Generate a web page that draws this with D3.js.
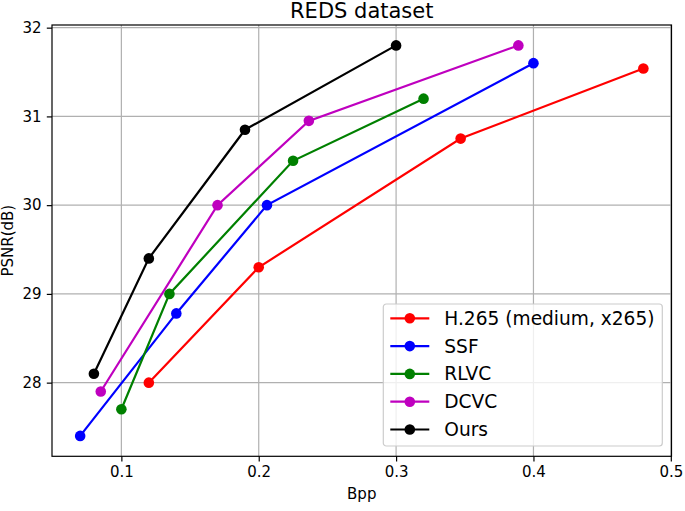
<!DOCTYPE html>
<html>
<head>
<meta charset="utf-8">
<script src="https://cdn.jsdelivr.net/npm/d3@7"></script>
<style>
  body { margin: 0; background: #fff; }
  text { font-family: "DejaVu Sans", sans-serif; fill: #000; }
</style>
</head>
<body>
<div id="graf"></div>
<script>
const methods = ['H.265 (medium, x265)', 'SSF', 'RLVC', 'DCVC', 'Ours']
const colors = ['#ff0000', '#0000ff', '#008000', '#bf00bf', '#000000']

const h265Bpp = [0.12, 0.2, 0.347, 0.48]
const h265Psnr = [28.0, 29.3, 30.75, 31.54]
const ssfBpp = [0.07, 0.14, 0.206, 0.4]
const ssfPsnr = [27.4, 28.78, 30.0, 31.6]
const rlvcBpp = [0.1, 0.135, 0.225, 0.32]
const rlvcPsnr = [27.7, 29.0, 30.5, 31.2]
const dcvcBpp = [0.085, 0.17, 0.2365, 0.389]
const dcvcPsnr = [27.9, 30.0, 30.95, 31.8]
const oursBpp = [0.08, 0.12, 0.19, 0.3]
const oursPsnr = [28.1, 29.4, 30.85, 31.8]

const xTicks = [0.1, 0.2, 0.3, 0.4, 0.5]
const yTicks = [28, 29, 30, 31, 32]

const bppList = [h265Bpp, ssfBpp, rlvcBpp, dcvcBpp, oursBpp]
const psnrList = [h265Psnr, ssfPsnr, rlvcPsnr, dcvcPsnr, oursPsnr]
const series = methods.map((name, i) => ({
    name,
    color: colors[i],
    pts: bppList[i].map((b, j) => ({ x: b, y: psnrList[i][j] }))
}))

const ancho = 685
const alto = 511
const m = { left: 52, right: 13.5, top: 25, bottom: 54.7 }

const svg = d3.select('#graf').append('svg')
    .attr('width', ancho)
    .attr('height', alto)

const x = d3.scaleLinear().domain([0.0495, 0.5005]).range([m.left, ancho - m.right])
const y = d3.scaleLinear().domain([27.17, 32.03]).range([alto - m.bottom, m.top])

// grid
svg.append('g').selectAll('line').data(xTicks).enter().append('line')
    .attr('x1', d => x(d)).attr('x2', d => x(d))
    .attr('y1', m.top).attr('y2', alto - m.bottom)
    .attr('stroke', '#b0b0b0').attr('stroke-width', 1.2)
svg.append('g').selectAll('line').data(yTicks).enter().append('line')
    .attr('x1', m.left).attr('x2', ancho - m.right)
    .attr('y1', d => y(d)).attr('y2', d => y(d))
    .attr('stroke', '#b0b0b0').attr('stroke-width', 1.2)

// axes
const xAxis = svg.append('g')
    .attr('transform', `translate(0,${alto - m.bottom})`)
    .call(d3.axisBottom(x).tickValues(xTicks).tickFormat(d3.format('.1f')).tickSizeOuter(0).tickSize(5.2).tickPadding(5.2))
const yAxis = svg.append('g')
    .attr('transform', `translate(${m.left},0)`)
    .call(d3.axisLeft(y).tickValues(yTicks).tickFormat(d3.format('d')).tickSizeOuter(0).tickSize(5.2).tickPadding(5.2))
;[xAxis, yAxis].forEach(a => {
    a.select('.domain').remove()
    a.selectAll('line').attr('stroke', '#000').attr('stroke-width', 1.2)
    a.selectAll('text').attr('font-size', 15).attr('font-family', 'DejaVu Sans').attr('fill', '#000')
})

svg.append('rect')
    .attr('x', m.left).attr('y', m.top)
    .attr('width', ancho - m.left - m.right)
    .attr('height', alto - m.top - m.bottom)
    .attr('fill', 'none').attr('stroke', '#000').attr('stroke-width', 1.2)

// lines
const linea = d3.line().x(d => x(d.x)).y(d => y(d.y))
const grupos = svg.append('g').selectAll('g').data(series).enter().append('g')
grupos.append('path')
    .attr('d', d => linea(d.pts))
    .attr('fill', 'none')
    .attr('stroke', d => d.color)
    .attr('stroke-width', 2.2)
grupos.selectAll('circle').data(d => d.pts.map(p => ({ ...p, color: d.color }))).enter().append('circle')
    .attr('cx', d => x(d.x)).attr('cy', d => y(d.y))
    .attr('r', 5.3)
    .attr('fill', d => d.color)

// titles
svg.append('text')
    .attr('x', (m.left + ancho - m.right) / 2).attr('y', 18)
    .attr('text-anchor', 'middle').attr('font-size', 21)
    .text('REDS dataset')
svg.append('text')
    .attr('x', (m.left + ancho - m.right) / 2).attr('y', 499)
    .attr('text-anchor', 'middle').attr('font-size', 15)
    .text('Bpp')
svg.append('text')
    .attr('transform', `translate(13,${(m.top + alto - m.bottom) / 2}) rotate(-90)`)
    .attr('text-anchor', 'middle').attr('font-size', 15)
    .text('PSNR(dB)')

// legend
const rowH = 27.8
const legW = 279
const legH = 142
const legX = ancho - m.right - 9.2 - legW
const legY = alto - m.bottom - 10.3 - legH
const leg = svg.append('g').attr('transform', `translate(${legX},${legY})`)
leg.append('rect')
    .attr('width', legW).attr('height', legH)
    .attr('rx', 3).attr('ry', 3)
    .attr('fill', '#fff').attr('fill-opacity', 0.8)
    .attr('stroke', '#cccccc').attr('stroke-width', 1.2)
const filas = leg.selectAll('g.fila').data(series).enter().append('g')
    .attr('class', 'fila')
    .attr('transform', (d, i) => `translate(0,${14.3 + i * rowH})`)
filas.append('line')
    .attr('x1', 7).attr('x2', 46)
    .attr('stroke', d => d.color).attr('stroke-width', 2.2)
filas.append('circle')
    .attr('cx', 26.5).attr('r', 5.3)
    .attr('fill', d => d.color)
filas.append('text')
    .attr('x', 61).attr('dy', '0.35em')
    .attr('font-size', 18.6)
    .text(d => d.name)
</script>
</body>
</html>
